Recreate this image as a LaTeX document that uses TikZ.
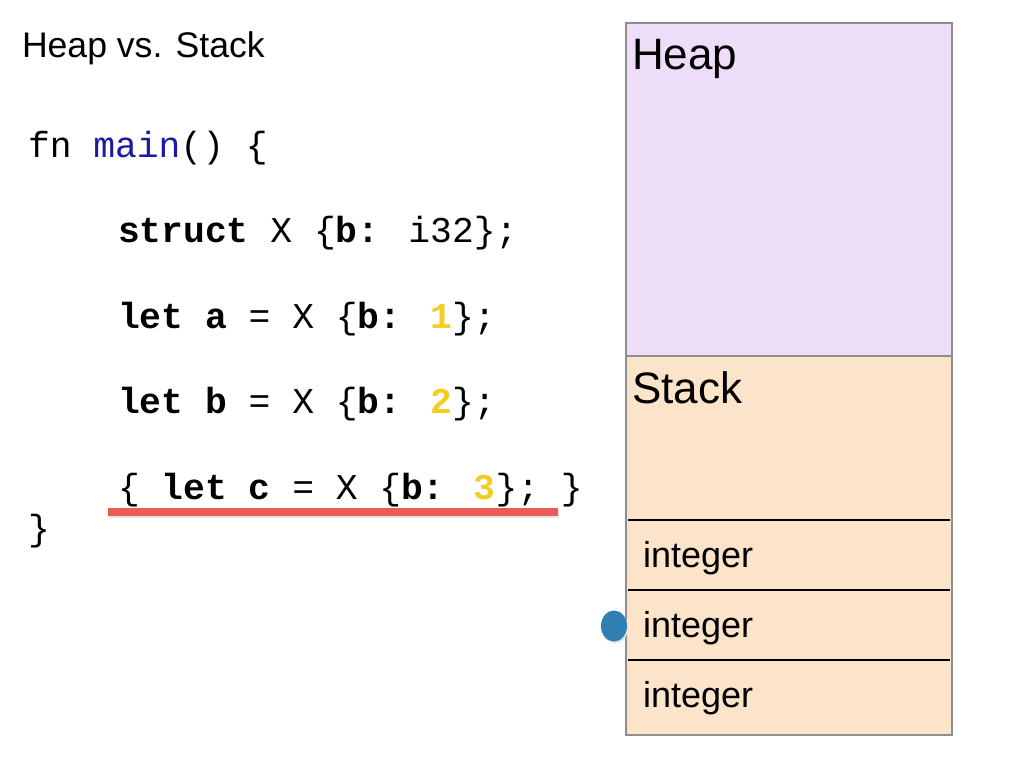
\documentclass[tikz,border=0pt]{standalone}
\usepackage{fontspec}
\setmainfont{Liberation Sans}
\newfontfamily\codefont{Liberation Mono}
\usetikzlibrary{shapes.geometric}
\definecolor{heapfill}{HTML}{EDDDF8}
\definecolor{stackfill}{HTML}{FCE4CA}
\definecolor{boxline}{HTML}{8E8E8E}
\definecolor{kwblue}{HTML}{1A1AA6}
\definecolor{numyellow}{HTML}{F4CC22}
\definecolor{markred}{HTML}{E95D55}
\definecolor{dotblue}{HTML}{2F7FB3}
\tikzset{
  txt/.style={anchor=base west, inner sep=0pt, outer sep=0pt},
  code/.style={txt, font=\codefont\fontsize{36.3}{40}\selectfont},
  region/.style={rectangle, draw=boxline, line width=2pt, minimum width=326pt, inner sep=0pt},
  divider/.style={black, line width=2pt},
}
\newcommand{\numc}[1]{\textcolor{numyellow}{\textbf{#1}}}
\begin{document}
\begin{tikzpicture}[x=1pt, y=-1pt]
\useasboundingbox (0,0) rectangle (1024,768);
% title
\node[txt, font=\fontsize{35.6}{40}\selectfont] (title) at (22,57) {Heap vs. Stack};
% code
\node[code] (l1) at (28,157) {fn \textcolor{kwblue}{main}() \{};
\node[code] (l2) at (118,242) {\textbf{struct} X \{\textbf{b:} i32\};};
\node[code] (l3) at (118,328) {\textbf{let a} = X \{\textbf{b:} \numc{1}\};};
\node[code] (l4) at (118,413) {\textbf{let b} = X \{\textbf{b:} \numc{2}\};};
\node[code] (l5) at (118,499) {\{ \textbf{let c} = X \{\textbf{b:} \numc{3}\}; \}};
\node[code] (l6) at (28,540) {\}};
% underline
\draw[black!10, line width=8pt] (109,514) -- (559,514);
\draw[markred, line width=8pt] (108,512) -- (558,512);
% memory regions
\node[region, fill=stackfill, minimum height=379pt] (stack) at (789,545.5) {};
\node[region, fill=heapfill, minimum height=333pt] (heap) at (789,189.5) {};
\node[txt, font=\fontsize{44}{48}\selectfont] (heaplbl) at (632,70) {Heap};
\node[txt, font=\fontsize{44}{48}\selectfont] (stacklbl) at (632,403) {Stack};
\draw[divider] (628,520) -- (950,520);
\draw[divider] (628,590) -- (950,590);
\draw[divider] (628,660) -- (950,660);
\node[txt, font=\fontsize{36}{40}\selectfont] (int1) at (643,567) {integer};
\node[txt, font=\fontsize{36}{40}\selectfont] (int2) at (643,637) {integer};
\node[txt, font=\fontsize{36}{40}\selectfont] (int3) at (643,707) {integer};
% pointer dot
\fill[black!10] (615,628) ellipse (13pt and 15.5pt);
\node[ellipse, fill=dotblue, minimum width=26pt, minimum height=31pt, inner sep=0pt] (dot) at (614,626) {};
\end{tikzpicture}
\end{document}
